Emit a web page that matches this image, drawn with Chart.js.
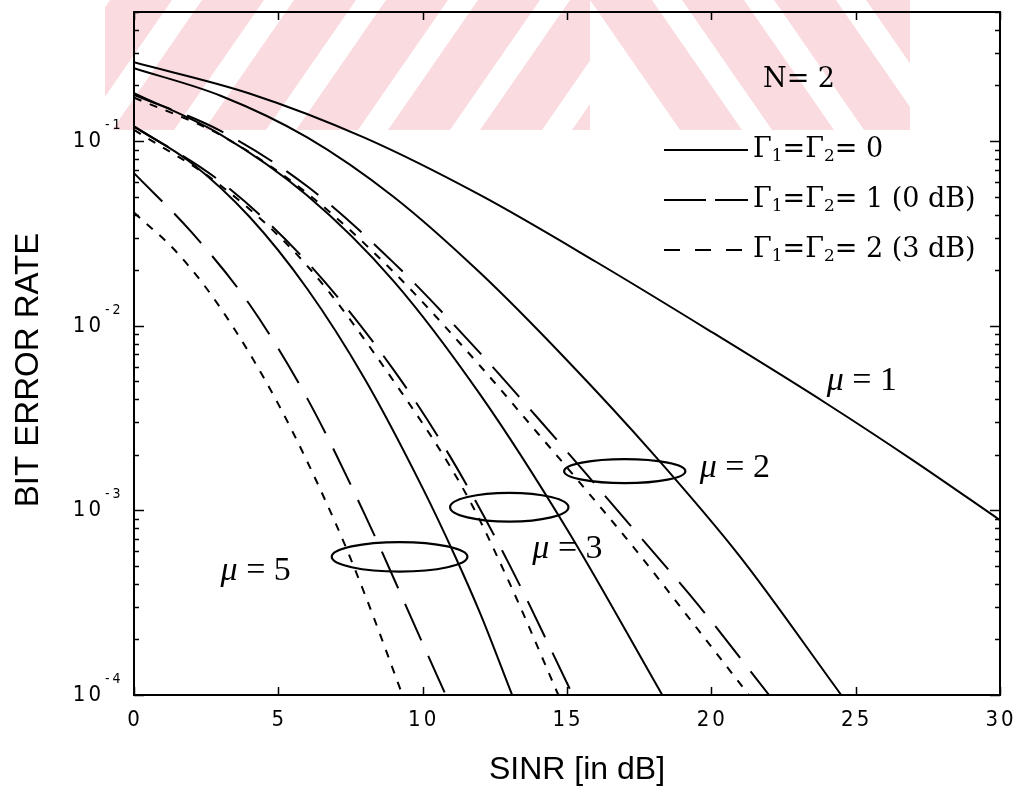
<!DOCTYPE html>
<html>
<head>
<meta charset="utf-8">
<script src="https://cdn.jsdelivr.net/npm/chart.js@4/dist/chart.umd.min.js"></script>
<style>
  html, body { margin: 0; padding: 0; background: #ffffff; }
  canvas { display: block; }
</style>
</head>
<body>
<canvas id="ber" width="1026" height="792"></canvas>
<script>
// ---- axis tick values ----
const sinrTicks = [0, 5, 10, 15, 20, 25, 30];
const berDecades = [1e-4, 1e-3, 1e-2, 1e-1];
const decadeExponents = ['-4', '-3', '-2', '-1'];

// ---- BER curves (SINR in dB, bit error rate) ----
// mu = 1, Gamma1 = Gamma2 = 0
const sinrMu1G0 = [0, 4, 8, 12, 16, 20, 24, 27, 30];
const berMu1G0  = [0.267, 0.181, 0.104, 0.0509, 0.0222, 0.00927, 0.00378, 0.00186, 0.000885];

// mu = 2
const sinrMu2G0 = [0, 3, 6, 9, 12, 15, 18, 21, 24.5];
const berMu2G0  = [0.248, 0.176, 0.1047, 0.0498, 0.01928, 0.0065, 0.00201, 0.00056, 0.0001];
const sinrMu2G1 = [0, 3, 6, 9, 12, 14.1, 15.6, 17.4, 19.6, 22.0];
const berMu2G1  = [0.178, 0.1135, 0.0569, 0.0219, 0.00708, 0.00302, 0.00162, 0.00076, 0.00030, 0.0001];
const sinrMu2G2 = [0, 3, 6, 9, 12, 14, 15.4, 17.4, 19.5, 21.3];
const berMu2G2  = [0.172, 0.1076, 0.0521, 0.0195, 0.00603, 0.0026, 0.00144, 0.000605, 0.00023, 0.0001];

// mu = 3
const sinrMu3G0 = [0, 3, 6, 9, 12, 15, 18.3];
const berMu3G0  = [0.182, 0.1084, 0.0507, 0.0174, 0.00422, 0.00079, 0.0001];
const sinrMu3G1 = [0, 3, 6, 9, 11, 13, 15.2];
const berMu3G1  = [0.120, 0.0603, 0.0221, 0.00575, 0.0019, 0.00051, 0.0001];
const sinrMu3G2 = [0, 3, 6, 9, 11.5, 13, 14.7];
const berMu3G2  = [0.115, 0.0575, 0.0211, 0.0050, 0.00123, 0.000407, 0.0001];

// mu = 5
const sinrMu5G0 = [0, 2, 4, 6, 8, 10, 11.1, 12, 13.1];
const berMu5G0  = [0.120, 0.0759, 0.0389, 0.01585, 0.00513, 0.00132, 0.000575, 0.000275, 0.0001];
const sinrMu5G1 = [0, 2, 4, 6, 8, 10, 10.8];
const berMu5G1  = [0.067, 0.032, 0.01306, 0.00404, 0.000946, 0.00019, 0.0001];
const sinrMu5G2 = [0, 1.5, 3, 5, 7, 8, 9.3];
const berMu5G2  = [0.041, 0.0248, 0.01245, 0.00376, 0.00084, 0.00035, 0.0001];

// ---- annotations: group ellipses (centre SINR dB, centre BER, half-width dB, half-height decades) ----
const groupEllipses = [
  { sinr: 17.0, ber: 1.63e-3, halfWidthDb: 2.1,  halfHeightDec: 0.065 },
  { sinr: 13.0, ber: 1.04e-3, halfWidthDb: 2.05, halfHeightDec: 0.078 },
  { sinr: 9.2,  ber: 5.6e-4,  halfWidthDb: 2.35, halfHeightDec: 0.08 }
];
// mu labels: text, SINR of left edge, BER at text middle
const muLabels = [
  { value: '1', sinr: 24.0, ber: 5.0e-3 },
  { value: '2', sinr: 19.6, ber: 1.7e-3 },
  { value: '3', sinr: 13.8, ber: 6.2e-4 },
  { value: '5', sinr: 3.0,  ber: 4.7e-4 }
];
const legendTitle = 'N= 2';
const legendEntries = [
  { g: '0',          dash: [] },
  { g: '1 (0 dB)',   dash: [42, 9] },
  { g: '2 (3 dB)',   dash: [16, 15] }
];

const DASH_SOLID = [];
const DASH_LONG = [40, 17];
const DASH_SHORT = [8, 9];

function series(xs, ys, dash) {
  return {
    data: xs.map((x, i) => ({ x: x, y: ys[i] })),
    borderColor: '#000000',
    borderWidth: 2,
    borderDash: dash,
    pointRadius: 0,
    fill: false,
    cubicInterpolationMode: 'monotone'
  };
}

const datasets = [
  series(sinrMu1G0, berMu1G0, DASH_SOLID),
  series(sinrMu2G0, berMu2G0, DASH_SOLID),
  series(sinrMu2G1, berMu2G1, DASH_LONG),
  series(sinrMu2G2, berMu2G2, DASH_SHORT),
  series(sinrMu3G0, berMu3G0, DASH_SOLID),
  series(sinrMu3G1, berMu3G1, DASH_LONG),
  series(sinrMu3G2, berMu3G2, DASH_SHORT),
  series(sinrMu5G0, berMu5G0, DASH_SOLID),
  series(sinrMu5G1, berMu5G1, DASH_LONG),
  series(sinrMu5G2, berMu5G2, DASH_SHORT)
];

const NARROW = '"Liberation Sans Narrow", "DejaVu Sans Condensed", "Roboto Condensed", "Liberation Sans", sans-serif';
const SERIF = '"DejaVu Serif", "Liberation Serif", serif';

// faint striped backdrop band across the top
const backdropPlugin = {
  id: 'backdrop',
  beforeDraw(chart) {
    const ctx = chart.ctx;
    ctx.save();
    ctx.fillStyle = '#fadbe0';
    const bandTop = 0, bandBottom = 130, shift = 90, period = 92, width = 62;
    // left half: "/" stripes
    ctx.save();
    ctx.beginPath(); ctx.rect(105, bandTop, 485, bandBottom - bandTop); ctx.clip();
    for (let x0 = 20; x0 < 620; x0 += period) {
      ctx.beginPath();
      ctx.moveTo(x0, bandBottom);
      ctx.lineTo(x0 + width, bandBottom);
      ctx.lineTo(x0 + width + shift, bandTop);
      ctx.lineTo(x0 + shift, bandTop);
      ctx.closePath();
      ctx.fill();
    }
    ctx.restore();
    // right half: "\" stripes
    ctx.save();
    ctx.beginPath(); ctx.rect(590, bandTop, 320, bandBottom - bandTop); ctx.clip();
    for (let x0 = 590; x0 < 1000; x0 += period) {
      ctx.beginPath();
      ctx.moveTo(x0, bandTop);
      ctx.lineTo(x0 + width, bandTop);
      ctx.lineTo(x0 + width + shift, bandBottom);
      ctx.lineTo(x0 + shift, bandBottom);
      ctx.closePath();
      ctx.fill();
    }
    ctx.restore();
    ctx.restore();
  }
};

// frame, inward ticks, tick labels, titles, legend and annotations
const framePlugin = {
  id: 'frame',
  afterDatasetsDraw(chart) {
    const ctx = chart.ctx;
    const a = chart.chartArea;
    const xs = chart.scales.x, ys = chart.scales.y;
    ctx.save();
    ctx.strokeStyle = '#000'; ctx.fillStyle = '#000';

    // frame
    ctx.lineWidth = 2;
    ctx.strokeRect(a.left, a.top, a.right - a.left, a.bottom - a.top);

    // x ticks (top & bottom, inward)
    ctx.lineWidth = 1.5;
    sinrTicks.forEach(v => {
      const px = Math.round(xs.getPixelForValue(v)) + 0.5;
      ctx.beginPath();
      ctx.moveTo(px, a.bottom); ctx.lineTo(px, a.bottom - 8);
      ctx.moveTo(px, a.top); ctx.lineTo(px, a.top + 8);
      ctx.stroke();
    });
    // y ticks: decades long, minors short
    berDecades.forEach(d => {
      for (let m = 1; m <= 9; m++) {
        const v = d * m;
        if (v > ys.max + 1e-12) break;
        const py = Math.round(ys.getPixelForValue(v)) + 0.5;
        const len = m === 1 ? 10 : 5;
        ctx.beginPath();
        ctx.moveTo(a.left, py); ctx.lineTo(a.left + len, py);
        ctx.moveTo(a.right, py); ctx.lineTo(a.right - len, py);
        ctx.stroke();
      }
    });

    // x tick labels
    ctx.font = '22px ' + NARROW;
    if ('letterSpacing' in ctx) ctx.letterSpacing = '3px';
    ctx.textAlign = 'center'; ctx.textBaseline = 'alphabetic';
    sinrTicks.forEach(v => {
      ctx.fillText(String(v), xs.getPixelForValue(v) + 1, a.bottom + 31);
    });
    // y tick labels: 10 with exponent
    berDecades.forEach((d, i) => {
      const py = ys.getPixelForValue(d);
      ctx.font = '22px ' + NARROW;
      ctx.textAlign = 'right';
      ctx.fillText('10', 104, py + 6);
      ctx.font = '14px ' + NARROW;
      ctx.textAlign = 'left';
      ctx.fillText(decadeExponents[i], 105, py - 12);
    });
    if ('letterSpacing' in ctx) ctx.letterSpacing = '0px';

    // axis titles
    ctx.font = '32px "Liberation Sans", Arial, sans-serif';
    ctx.textAlign = 'center'; ctx.textBaseline = 'middle';
    ctx.fillText('SINR [in dB]', (a.left + a.right) / 2 + 10, a.bottom + 75);
    ctx.save();
    ctx.translate(29, 370);
    ctx.rotate(-Math.PI / 2);
    ctx.font = '33px "Liberation Sans", Arial, sans-serif';
    ctx.fillText('BIT ERROR RATE', 0, 0);
    ctx.restore();

    // legend
    ctx.textAlign = 'left'; ctx.textBaseline = 'middle';
    ctx.font = '27px ' + SERIF;
    ctx.fillText(legendTitle, 763, 80);
    legendEntries.forEach((e, i) => {
      const y = 150 + i * 50;
      ctx.lineWidth = 2;
      ctx.setLineDash(e.dash);
      ctx.beginPath(); ctx.moveTo(664, y); ctx.lineTo(748, y); ctx.stroke();
      ctx.setLineDash([]);
      let x = 753;
      const parts = [['\u0393', 27, 0], ['1', 17, 7], ['=', 27, 0], ['\u0393', 27, 0], ['2', 17, 7], ['= ' + e.g, 27, 0]];
      parts.forEach(p => {
        ctx.font = p[1] + 'px ' + SERIF;
        ctx.fillText(p[0], x, y + p[2]);
        x += ctx.measureText(p[0]).width;
      });
    });

    // group ellipses
    ctx.lineWidth = 2.2;
    groupEllipses.forEach(el => {
      const cx = xs.getPixelForValue(el.sinr);
      const cy = ys.getPixelForValue(el.ber);
      const rx = xs.getPixelForValue(el.sinr + el.halfWidthDb) - cx;
      const ry = cy - ys.getPixelForValue(el.ber * Math.pow(10, el.halfHeightDec));
      ctx.beginPath();
      ctx.ellipse(cx, cy, rx, ry, 0, 0, Math.PI * 2);
      ctx.stroke();
    });

    // mu labels
    muLabels.forEach(l => {
      const x = xs.getPixelForValue(l.sinr);
      const y = ys.getPixelForValue(l.ber);
      ctx.font = 'italic 34px "Liberation Serif", serif';
      ctx.fillText('\u03bc', x, y);
      const w = ctx.measureText('\u03bc').width;
      ctx.font = '34px "Liberation Serif", serif';
      ctx.fillText(' = ' + l.value, x + w, y);
    });
    ctx.restore();
  }
};

new Chart(document.getElementById('ber'), {
  type: 'line',
  data: { datasets: datasets },
  options: {
    responsive: false,
    animation: false,
    devicePixelRatio: 1,
    layout: { padding: { left: 134, top: 12, right: 26, bottom: 97 } },
    plugins: { legend: { display: false }, tooltip: { enabled: false } },
    scales: {
      x: { type: 'linear', min: 0, max: 30, display: false },
      y: { type: 'logarithmic', min: 1e-4, max: 0.5, display: false }
    }
  },
  plugins: [backdropPlugin, framePlugin]
});
</script>
</body>
</html>
